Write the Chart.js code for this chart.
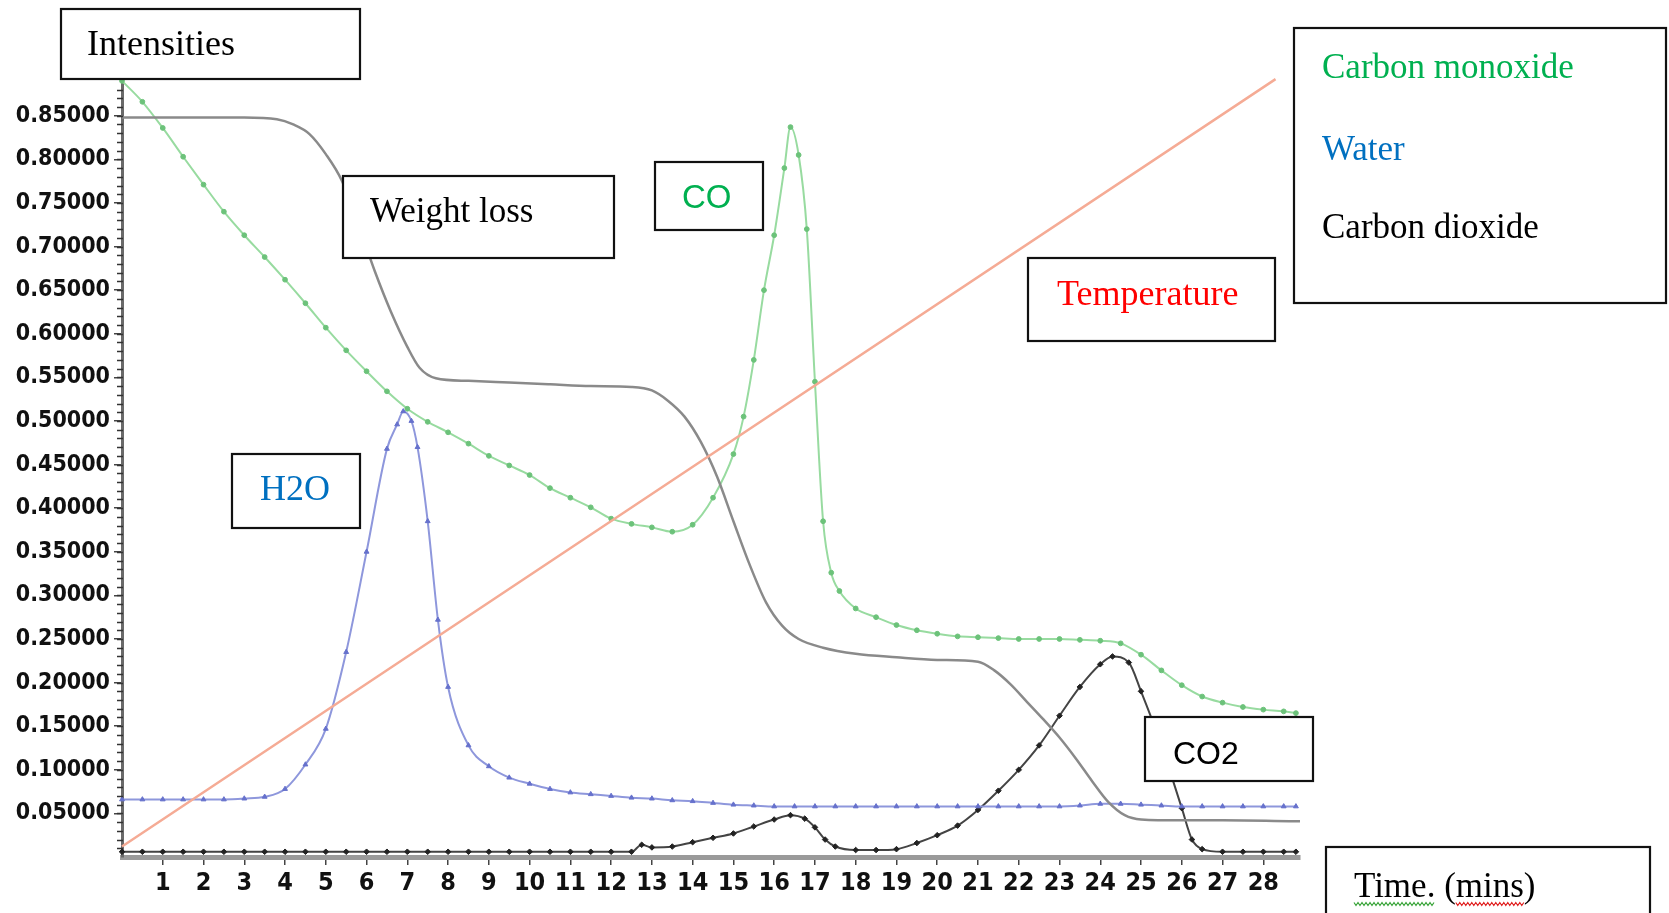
<!DOCTYPE html>
<html>
<head>
<meta charset="utf-8">
<script src="https://cdn.jsdelivr.net/npm/chart.js@4.4.1/dist/chart.umd.min.js"></script>
<style>
  html, body { margin: 0; padding: 0; background: #fff; }
  canvas { display: block; }
</style>
</head>
<body>
<canvas id="chart" width="1669" height="913"></canvas>
<script>
// time axis (mins) and intensities
const coTimes = [0, 0.5, 1, 1.5, 2, 2.5, 3, 3.5, 4, 4.5, 5, 5.5, 6, 6.5, 7, 7.5, 8, 8.5, 9, 9.5,
  10, 10.5, 11, 11.5, 12, 12.5, 13, 13.5, 14, 14.5, 15, 15.25, 15.5, 15.75, 16, 16.25, 16.4, 16.6,
  16.8, 17, 17.2, 17.4, 17.6, 18, 18.5, 19, 19.5, 20, 20.5, 21, 21.5, 22, 22.5, 23, 23.5, 24,
  24.5, 25, 25.5, 26, 26.5, 27, 27.5, 28, 28.5, 28.8];
const coValues = [0.890, 0.866, 0.836, 0.803, 0.771, 0.740, 0.713, 0.688, 0.662, 0.635, 0.607,
  0.581, 0.557, 0.534, 0.514, 0.499, 0.487, 0.474, 0.460, 0.449, 0.438, 0.423, 0.412, 0.401,
  0.388, 0.382, 0.378, 0.373, 0.381, 0.412, 0.462, 0.505, 0.570, 0.650, 0.713, 0.790, 0.837,
  0.805, 0.720, 0.545, 0.385, 0.326, 0.305, 0.285, 0.275, 0.266, 0.260, 0.256, 0.253, 0.252,
  0.251, 0.250, 0.250, 0.250, 0.249, 0.248, 0.245, 0.232, 0.214, 0.197, 0.184, 0.177, 0.172,
  0.169, 0.167, 0.165];

const waterTimes = [0, 0.5, 1, 1.5, 2, 2.5, 3, 3.5, 4, 4.5, 5, 5.5, 6, 6.5, 6.75, 6.9, 7.1, 7.25,
  7.5, 7.75, 8, 8.5, 9, 9.5, 10, 10.5, 11, 11.5, 12, 12.5, 13, 13.5, 14, 14.5, 15, 15.5, 16,
  16.5, 17, 17.5, 18, 18.5, 19, 19.5, 20, 20.5, 21, 21.5, 22, 22.5, 23, 23.5, 24, 24.5, 25,
  25.5, 26, 26.5, 27, 27.5, 28, 28.5, 28.8];
const waterValues = [0.066, 0.066, 0.066, 0.066, 0.066, 0.066, 0.067, 0.069, 0.078, 0.106,
  0.147, 0.235, 0.350, 0.468, 0.496, 0.511, 0.500, 0.470, 0.385, 0.272, 0.195, 0.128, 0.104,
  0.091, 0.084, 0.078, 0.074, 0.072, 0.070, 0.068, 0.067, 0.065, 0.064, 0.062, 0.060, 0.059,
  0.058, 0.058, 0.058, 0.058, 0.058, 0.058, 0.058, 0.058, 0.058, 0.058, 0.058, 0.058, 0.058,
  0.058, 0.058, 0.059, 0.061, 0.061, 0.060, 0.059, 0.058, 0.058, 0.058, 0.058, 0.058, 0.058,
  0.058];

const co2Times = [0, 0.5, 1, 1.5, 2, 2.5, 3, 3.5, 4, 4.5, 5, 5.5, 6, 6.5, 7, 7.5, 8, 8.5, 9, 9.5,
  10, 10.5, 11, 11.5, 12, 12.5, 12.75, 13, 13.5, 14, 14.5, 15, 15.5, 16, 16.4, 16.75, 17, 17.25,
  17.5, 18, 18.5, 19, 19.5, 20, 20.5, 21, 21.5, 22, 22.5, 23, 23.5, 24, 24.3, 24.7, 25, 25.5,
  26, 26.25, 26.5, 27, 27.5, 28, 28.5, 28.8];
const co2Values = [0.006, 0.006, 0.006, 0.006, 0.006, 0.006, 0.006, 0.006, 0.006, 0.006, 0.006,
  0.006, 0.006, 0.006, 0.006, 0.006, 0.006, 0.006, 0.006, 0.006, 0.006, 0.006, 0.006, 0.006,
  0.006, 0.006, 0.014, 0.011, 0.012, 0.017, 0.022, 0.027, 0.035, 0.043, 0.048, 0.044, 0.034,
  0.020, 0.012, 0.008, 0.008, 0.009, 0.016, 0.025, 0.036, 0.054, 0.076, 0.100, 0.128, 0.162,
  0.195, 0.221, 0.230, 0.223, 0.190, 0.128, 0.056, 0.020, 0.009, 0.006, 0.006, 0.006, 0.006,
  0.006];

const weightTimes = [0, 1, 2, 3, 3.8, 4.2, 4.6, 5, 5.4, 5.8, 6.2, 6.6, 7, 7.3, 7.7, 8.5, 9.5,
  10.5, 11.5, 12.5, 13, 13.4, 13.8, 14.2, 14.6, 15, 15.4, 15.8, 16.2, 16.6, 17.2, 18, 19, 20,
  21, 21.4, 21.8, 22.2, 22.6, 23, 23.4, 23.8, 24.2, 24.6, 25, 26, 27, 28.9];
const weightValues = [0.848, 0.848, 0.848, 0.848, 0.846, 0.840, 0.829, 0.806, 0.775, 0.725,
  0.672, 0.625, 0.585, 0.561, 0.549, 0.546, 0.544, 0.542, 0.540, 0.539, 0.535, 0.523, 0.505,
  0.476, 0.436, 0.385, 0.335, 0.292, 0.265, 0.250, 0.240, 0.233, 0.229, 0.226, 0.224, 0.214,
  0.198, 0.178, 0.158, 0.137, 0.113, 0.087, 0.063, 0.048, 0.043, 0.042, 0.042, 0.041];

const tempTimes = [0, 28.3];
const tempValues = [0.012, 0.892];

const xTicks = [1, 2, 3, 4, 5, 6, 7, 8, 9, 10, 11, 12, 13, 14, 15, 16, 17, 18, 19, 20, 21, 22,
  23, 24, 25, 26, 27, 28];
const yTicks = [0.05, 0.10, 0.15, 0.20, 0.25, 0.30, 0.35, 0.40, 0.45, 0.50, 0.55, 0.60, 0.65,
  0.70, 0.75, 0.80, 0.85];

const SERIF = '"Liberation Serif", "Times New Roman", serif';
const SANS = '"Liberation Sans", Arial, sans-serif';
const TICKFONT = '"DejaVu Sans Condensed", "DejaVu Sans", sans-serif';

function pairs(times, values) {
  return times.map((t, i) => ({ x: t, y: values[i] }));
}

// text boxes drawn on top of the chart (canvas pixels)
const boxes = [
  [61, 9, 299, 70], [343, 176, 271, 82], [655, 162, 108, 68], [1028, 258, 247, 83],
  [1294, 28, 372, 275], [232, 454, 128, 74], [1145, 717, 168, 64], [1326, 847, 324, 80]
];
const notes = [
  { text: 'Intensities', x: 87, y: 55, font: '36px ' + SERIF, color: '#000' },
  { text: 'Weight loss', x: 370, y: 222, font: '35px ' + SERIF, color: '#000' },
  { text: 'CO', x: 682, y: 208, font: '33px ' + SANS, color: '#00b050' },
  { text: 'Temperature', x: 1057, y: 305, font: '36px ' + SERIF, color: '#ff0000' },
  { text: 'Carbon monoxide', x: 1322, y: 78, font: '35px ' + SERIF, color: '#00b050' },
  { text: 'Water', x: 1322, y: 160, font: '35px ' + SERIF, color: '#0070c0' },
  { text: 'Carbon dioxide', x: 1322, y: 238, font: '35px ' + SERIF, color: '#000' },
  { text: 'H2O', x: 260, y: 500, font: '36px ' + SERIF, color: '#0070c0' },
  { text: 'CO2', x: 1173, y: 764, font: '32px ' + SANS, color: '#000' },
  { text: 'Time. (mins)', x: 1354, y: 897, font: '35px ' + SERIF, color: '#000' }
];

function wavy(ctx, x1, x2, y, color) {
  ctx.strokeStyle = color;
  ctx.lineWidth = 1.2;
  ctx.beginPath();
  for (let x = x1, k = 0; x <= x2; x += 2, k++) {
    const yy = y + (k % 2 ? 1.5 : -1.5);
    if (k === 0) ctx.moveTo(x, yy); else ctx.lineTo(x, yy);
  }
  ctx.stroke();
}

const decor = {
  id: 'decor',
  afterDraw(chart) {
    const { ctx, chartArea, scales } = chart;
    ctx.save();
    // minor ticks along the intensity axis
    ctx.strokeStyle = '#333';
    ctx.lineWidth = 1.5;
    for (let i = 1; i <= 88; i++) {
      const py = Math.round(scales.y.getPixelForValue(i / 100)) + 0.5;
      ctx.beginPath();
      ctx.moveTo(chartArea.left - 5, py);
      ctx.lineTo(chartArea.left + 1, py);
      ctx.stroke();
    }
    // boxes
    ctx.strokeStyle = '#111';
    ctx.lineWidth = 2.2;
    ctx.fillStyle = '#fff';
    boxes.forEach(b => {
      ctx.fillRect(b[0], b[1], b[2], b[3]);
      ctx.strokeRect(b[0], b[1], b[2], b[3]);
    });
    ctx.textBaseline = 'alphabetic';
    ctx.textAlign = 'left';
    notes.forEach(n => {
      ctx.font = n.font;
      ctx.fillStyle = n.color;
      ctx.fillText(n.text, n.x, n.y);
    });
    // spell-check squiggles under the time label
    const t = notes[notes.length - 1];
    ctx.font = t.font;
    wavy(ctx, t.x, t.x + ctx.measureText('Time.').width, t.y + 7, '#3aa53a');
    const m0 = t.x + ctx.measureText('Time. (').width;
    wavy(ctx, m0, m0 + ctx.measureText('mins').width, t.y + 7, '#e02020');
    ctx.restore();
  }
};

new Chart(document.getElementById('chart'), {
  type: 'line',
  data: {
    datasets: [
      { label: 'Temperature', data: pairs(tempTimes, tempValues), borderColor: '#f5ab95',
        borderWidth: 2.5, pointRadius: 0 },
      { label: 'Weight loss', data: pairs(weightTimes, weightValues), borderColor: '#8a8a8a',
        borderWidth: 2.5, pointRadius: 0, cubicInterpolationMode: 'monotone' },
      { label: 'Water', data: pairs(waterTimes, waterValues), borderColor: '#8e97dc',
        borderWidth: 2, pointRadius: 2.8, pointStyle: 'triangle', pointBackgroundColor: '#6671cc',
        pointBorderColor: '#6671cc', pointBorderWidth: 1, cubicInterpolationMode: 'monotone' },
      { label: 'Carbon monoxide', data: pairs(coTimes, coValues), borderColor: '#98dba0',
        borderWidth: 2, pointRadius: 2.4, pointStyle: 'circle', pointBackgroundColor: '#6cc27a',
        pointBorderColor: '#6cc27a', pointBorderWidth: 1, cubicInterpolationMode: 'monotone' },
      { label: 'Carbon dioxide', data: pairs(co2Times, co2Values), borderColor: '#444',
        borderWidth: 2, pointRadius: 2.8, pointStyle: 'rectRot', pointBackgroundColor: '#222',
        pointBorderColor: '#222', pointBorderWidth: 1, cubicInterpolationMode: 'monotone' }
    ]
  },
  options: {
    responsive: false,
    animation: false,
    devicePixelRatio: 1,
    layout: { padding: { top: 80, right: 369, bottom: 0, left: 0 } },
    elements: { line: { tension: 0.3 } },
    datasets: { line: { clip: false } },
    plugins: { legend: { display: false }, tooltip: { enabled: false } },
    scales: {
      x: {
        type: 'linear', min: 0, max: 28.9,
        afterBuildTicks: s => { s.ticks = xTicks.map(v => ({ value: v })); },
        afterFit: s => { s.height = 56; },
        grid: { drawOnChartArea: false, drawTicks: true, tickLength: 8, color: '#444', lineWidth: 1.5 },
        border: { display: true, color: '#9a9a9a', width: 5 },
        ticks: { color: '#111', padding: 3, maxRotation: 0, autoSkip: false,
          font: { family: TICKFONT, size: 25, weight: 'bold' }, callback: v => String(v) }
      },
      y: {
        min: 0, max: 0.891,
        afterBuildTicks: s => { s.ticks = yTicks.map(v => ({ value: v })); },
        afterFit: s => { s.width = 122; },
        grid: { drawOnChartArea: false, drawTicks: true, tickLength: 8, color: '#444', lineWidth: 1.5 },
        border: { display: true, color: '#6a6a6a', width: 3 },
        ticks: { color: '#111', padding: 4, autoSkip: false,
          font: { family: TICKFONT, size: 23, weight: 'bold' }, callback: v => v.toFixed(5) }
      }
    }
  },
  plugins: [decor]
});
</script>
</body>
</html>
